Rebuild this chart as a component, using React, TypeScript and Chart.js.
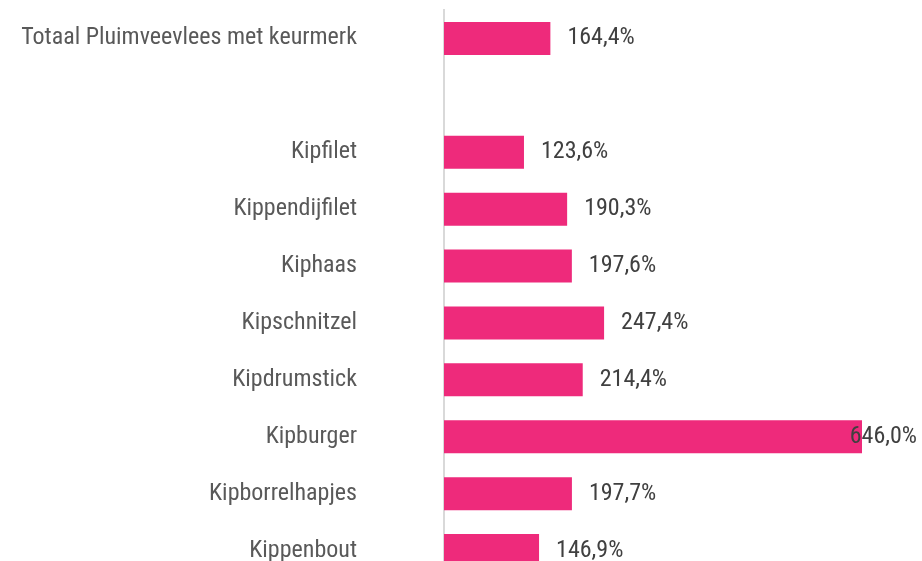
import { useEffect, useRef } from "react";
import { Chart, registerables } from "chart.js";

Chart.register(...registerables);

const categories: string[] = [
  "Totaal Pluimveevlees met keurmerk",
  "",
  "Kipfilet",
  "Kippendijfilet",
  "Kiphaas",
  "Kipschnitzel",
  "Kipdrumstick",
  "Kipburger",
  "Kipborrelhapjes",
  "Kippenbout",
];

const values: (number | null)[] = [164.4, null, 123.6, 190.3, 197.6, 247.4, 214.4, 646.0, 197.7, 146.9];

const valueLabels: string[] = values.map((v) =>
  v == null ? "" : v.toFixed(1).replace(".", ",") + "%"
);

const FONT = "'Roboto Condensed', 'Liberation Sans Narrow', 'DejaVu Sans Condensed', Roboto, sans-serif";
const BAR_COLOR = "#EE2A7B";

const valueLabelPlugin = {
  id: "valueLabels",
  afterDatasetsDraw(chart: any) {
    const ctx = chart.ctx;
    const meta = chart.getDatasetMeta(0);
    ctx.save();
    ctx.font = `normal 24px ${FONT}`;
    ctx.fillStyle = "#404040";
    ctx.textBaseline = "middle";
    ctx.textAlign = "left";
    meta.data.forEach((bar: any, i: number) => {
      const label = valueLabels[i];
      if (!label) return;
      const w = ctx.measureText(label).width;
      const x = Math.min(bar.x + 17, chart.width - 5 - w);
      ctx.fillText(label, x, bar.y);
    });
    ctx.restore();
  },
};

export default function App() {
  const canvasRef = useRef<HTMLCanvasElement | null>(null);

  useEffect(() => {
    if (!canvasRef.current) return;
    const chart = new Chart(canvasRef.current, {
      type: "bar",
      data: {
        labels: categories,
        datasets: [
          {
            data: values as any,
            backgroundColor: BAR_COLOR,
            borderWidth: 0,
            barPercentage: 0.58,
            categoryPercentage: 1,
          },
        ],
      },
      options: {
        indexAxis: "y",
        animation: false,
        responsive: false,
        maintainAspectRatio: false,
        layout: { padding: { top: 10, right: 38, bottom: 0, left: 0 } },
        plugins: {
          legend: { display: false },
          tooltip: { enabled: false },
        },
        scales: {
          x: {
            display: false,
            min: 0,
            max: 680,
          },
          y: {
            type: "category",
            grid: { display: false, drawTicks: false },
            border: { display: true, color: "#d9d9d9", width: 2 },
            ticks: {
              autoSkip: false,
              padding: 87,
              color: "#595959",
              font: { size: 24, family: FONT },
            },
            afterFit(scale: any) {
              scale.width = 444;
              scale.paddingTop = 0;
              scale.paddingBottom = 0;
            },
          },
        },
      },
      plugins: [valueLabelPlugin],
    });
    return () => chart.destroy();
  }, []);

  return (
    <div
      style={{
        position: "fixed",
        top: 0,
        left: 0,
        width: 922,
        height: 561,
        overflow: "hidden",
        background: "#ffffff",
      }}
    >
      <canvas ref={canvasRef} width={922} height={579} style={{ display: "block" }} />
    </div>
  );
}
